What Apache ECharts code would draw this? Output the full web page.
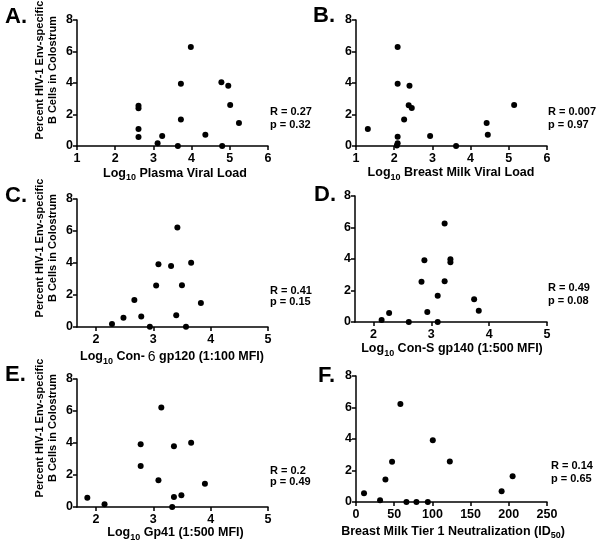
<!DOCTYPE html>
<html>
<head>
<meta charset="utf-8">
<script src="https://cdn.jsdelivr.net/npm/echarts@6/dist/echarts.min.js"></script>
<style>html,body{margin:0;padding:0;background:#fff}#c{width:603px;height:546px}</style>
</head>
<body>
<div id="c"></div>
<script>
// ---------- data ----------
const yTicks = [0, 2, 4, 6, 8];
const mfiTicks = [2, 3, 4, 5];

const plasmaVL_x = [2.61, 2.61, 2.61, 2.61, 3.11, 3.23, 3.64, 3.72, 3.72, 3.98, 4.36, 4.78, 4.96, 4.80, 5.01, 5.24];
const plasmaVL_y = [2.56, 2.40, 1.08, 0.57, 0.17, 0.63, 0.00, 3.96, 1.69, 6.29, 0.72, 4.04, 3.83, 0.00, 2.60, 1.46];

const milkVL_x = [2.09, 2.09, 2.40, 2.38, 2.46, 2.26, 2.09, 2.09, 2.07, 1.31, 2.94, 3.62, 4.42, 4.45, 5.14];
const milkVL_y = [6.29, 3.96, 3.83, 2.58, 2.41, 1.69, 0.59, 0.17, 0.03, 1.08, 0.63, 0.00, 1.46, 0.72, 2.60];

const con6_x = [2.28, 2.48, 2.67, 2.79, 2.94, 3.05, 3.09, 3.31, 3.42, 3.40, 3.50, 3.57, 3.66, 3.83];
const con6_y = [0.19, 0.58, 1.69, 0.65, 0.02, 2.59, 3.92, 3.82, 6.22, 0.73, 2.61, 0.02, 4.01, 1.50];

const conS_x = [2.14, 2.27, 2.61, 2.88, 2.83, 2.93, 3.11, 3.11, 3.23, 3.23, 3.33, 3.33, 3.74, 3.82];
const conS_y = [0.13, 0.57, 0.00, 3.92, 2.55, 0.63, 1.66, 0.00, 6.25, 2.59, 3.98, 3.79, 1.45, 0.72];

const gp41_x = [1.85, 2.15, 2.78, 2.78, 3.09, 3.14, 3.33, 3.36, 3.36, 3.49, 3.66, 3.90];
const gp41_y = [0.58, 0.17, 3.92, 2.57, 1.67, 6.22, 0.00, 3.80, 0.63, 0.73, 4.01, 1.46];

const neut_x = [10.5, 31.5, 38.5, 47.2, 58.1, 66, 79.1, 94, 100.5, 122.8, 190.6, 205];
const neut_y = [0.55, 0.11, 1.43, 2.55, 6.23, 0.00, 0.00, 0.00, 3.92, 2.57, 0.69, 1.64];

const panelLetters = ['A.', 'B.', 'C.', 'D.', 'E.', 'F.'];
const statR = ['R = 0.27', 'R = 0.007', 'R = 0.41', 'R = 0.49', 'R = 0.2', 'R = 0.14'];
const statP = ['p = 0.32', 'p = 0.97', 'p = 0.15', 'p = 0.08', 'p = 0.49', 'p = 0.65'];
const yTitle1 = 'Percent HIV-1 Env-specific';
const yTitle2 = 'B Cells in Colostrum';

// ---------- layout ----------
const FF = '"Liberation Sans", Arial, Helvetica, sans-serif';
const grids = [
  {left: 77, top: 20, width: 191, height: 126},
  {left: 356, top: 20, width: 191, height: 126},
  {left: 77, top: 199, width: 191, height: 128},
  {left: 355, top: 196, width: 192, height: 126},
  {left: 77, top: 379, width: 191, height: 128},
  {left: 356, top: 376, width: 191, height: 126}
];
const xRanges = [
  {min: 1, max: 6, interval: 1},
  {min: 1, max: 6, interval: 1},
  {min: 1.67, max: 5, custom: mfiTicks},
  {min: 1.68, max: 5, custom: mfiTicks},
  {min: 1.67, max: 5, custom: mfiTicks},
  {min: 0, max: 250, interval: 50}
];
const seriesData = [
  [plasmaVL_x, plasmaVL_y], [milkVL_x, milkVL_y], [con6_x, con6_y],
  [conS_x, conS_y], [gp41_x, gp41_y], [neut_x, neut_y]
];

const axisLine = {show: true, onZero: false, lineStyle: {color: '#000', width: 1.5}};
const tickStyle = {color: '#000', width: 1.5};
const labelBase = {color: '#000', fontWeight: 'bold', fontSize: 12.5, fontFamily: FF};

const xAxis = xRanges.map((r, i) => {
  const a = {
    type: 'value', gridIndex: i, min: r.min, max: r.max,
    axisLine: axisLine, splitLine: {show: false},
    axisTick: {show: true, length: 4, lineStyle: tickStyle},
    axisLabel: Object.assign({margin: 6}, labelBase)
  };
  if (r.custom) {
    a.axisTick.customValues = r.custom;
    a.axisLabel.customValues = r.custom;
  } else {
    a.interval = r.interval;
  }
  return a;
});
const yAxis = grids.map((g, i) => ({
  type: 'value', gridIndex: i, min: yTicks[0], max: yTicks[yTicks.length - 1], interval: 2,
  axisLine: axisLine, splitLine: {show: false},
  axisTick: {show: true, length: 4, lineStyle: tickStyle},
  axisLabel: Object.assign({margin: 4}, labelBase)
}));
const series = seriesData.map((d, i) => ({
  type: 'scatter', xAxisIndex: i, yAxisIndex: i, symbol: 'circle', symbolSize: 6,
  clip: false, z: 5,
  itemStyle: {color: '#000', opacity: 1},
  data: d[0].map((x, k) => [x, d[1][k]])
}));

// ---------- text ----------
const richStyle = {
  n: {fontSize: 12.5, fontWeight: 'bold', fontFamily: FF, color: '#000', lineHeight: 18},
  s: {fontSize: 9, fontWeight: 'bold', fontFamily: FF, color: '#000', lineHeight: 6, verticalAlign: 'bottom'},
  six: {fontSize: 14, fontWeight: 'normal', fontFamily: FF, color: '#000', lineHeight: 18, padding: [0, 0, 0, 3]}
};
const xTitles = [
  '{n|Log}{s|10}{n| Plasma Viral Load}',
  '{n|Log}{s|10}{n| Breast Milk Viral Load}',
  '{n|Log}{s|10}{n| Con-}{six|6}{n| gp120 (1:100 MFI)}',
  '{n|Log}{s|10}{n| Con-S gp140 (1:500 MFI)}',
  '{n|Log}{s|10}{n| Gp41 (1:500 MFI)}',
  '{n|Breast Milk Tier 1 Neutralization (ID}{s|50}{n|)}'
];
const xTitlePos = [[175, 173.5], [451, 173], [172, 357], [452, 349], [175.5, 533], [453, 531.5]];
const letterPos = [[5, 17], [313, 16], [5, 196], [314, 195], [5, 375], [318, 376]];
const statPos = [[270, 112, 125], [548, 112, 125], [270, 291, 302], [548, 287.5, 301], [270, 471, 482], [551, 466, 479]];
const yTitleY = [70, 248, 428];

const graphic = [];
panelLetters.forEach((t, i) => {
  graphic.push({type: 'text', x: letterPos[i][0], y: letterPos[i][1],
    style: {text: t, font: 'bold 22px ' + FF, fill: '#000', align: 'left', verticalAlign: 'middle'}});
  graphic.push({type: 'text', x: xTitlePos[i][0], y: xTitlePos[i][1],
    style: {text: xTitles[i], rich: richStyle, align: 'center', verticalAlign: 'middle', fill: '#000'}});
  graphic.push({type: 'text', x: statPos[i][0], y: statPos[i][1],
    style: {text: statR[i], font: 'bold 11px ' + FF, fill: '#000', align: 'left', verticalAlign: 'middle'}});
  graphic.push({type: 'text', x: statPos[i][0], y: statPos[i][2],
    style: {text: statP[i], font: 'bold 11px ' + FF, fill: '#000', align: 'left', verticalAlign: 'middle'}});
});
yTitleY.forEach(yy => {
  graphic.push({type: 'text', x: 40, y: yy, rotation: Math.PI / 2,
    style: {text: yTitle1, font: 'bold 11px ' + FF, fill: '#000', align: 'center', verticalAlign: 'middle'}});
  graphic.push({type: 'text', x: 52.5, y: yy, rotation: Math.PI / 2,
    style: {text: yTitle2, font: 'bold 11px ' + FF, fill: '#000', align: 'center', verticalAlign: 'middle'}});
});

const chart = echarts.init(document.getElementById('c'), null, {renderer: 'canvas'});
chart.setOption({
  animation: false,
  backgroundColor: '#fff',
  grid: grids.map(g => Object.assign({containLabel: false}, g)),
  xAxis: xAxis,
  yAxis: yAxis,
  series: series,
  graphic: graphic
});
</script>
</body>
</html>
